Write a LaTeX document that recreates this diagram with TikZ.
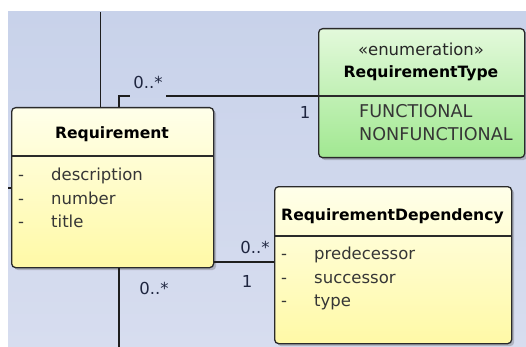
\documentclass[tikz,border=0pt]{standalone}
\usepackage{fontspec}
\setmainfont{DejaVu Sans}
\usetikzlibrary{shadows}

\definecolor{canvasTop}{HTML}{C8D2EA}
\definecolor{canvasBot}{HTML}{D7DDEF}
\definecolor{clsTop}{HTML}{FFFFEA}
\definecolor{clsBot}{HTML}{FFF9A6}
\definecolor{enumTop}{HTML}{E3F9DB}
\definecolor{enumBot}{HTML}{A1E891}
\definecolor{edgeCol}{HTML}{2A2A2A}
\definecolor{lineCol}{HTML}{1E1E1E}
\definecolor{attrCol}{HTML}{363636}
\definecolor{multCol}{HTML}{1F2640}

\newcommand\umlreg{\fontsize{16.5}{19}\selectfont}
\newcommand\umllit{\fontsize{17.6}{20}\selectfont}
\newcommand\umlbold{\fontsize{15.6}{19}\selectfont\bfseries}

\begin{document}
\begin{tikzpicture}[x=1pt,y=-1pt,
  umlbox/.style={draw=edgeCol, line width=1.3pt, rounded corners=4pt,
    anchor=north west, inner sep=0pt,
    drop shadow={shadow xshift=2.5pt, shadow yshift=-2.5pt, opacity=0.28, fill=black!70}},
  classbox/.style={umlbox, top color=clsTop, bottom color=clsBot},
  enumbox/.style={umlbox, top color=enumTop, bottom color=enumBot},
  sepline/.style={draw=edgeCol, line width=1.3pt},
  conn/.style={draw=lineCol, line width=1.4pt},
  ttl/.style={font=\umlbold, text=black, inner sep=0pt, text height=12pt, text depth=4pt},
  stereo/.style={font=\umlreg, text=black!85, inner sep=0pt, text height=12pt, text depth=4pt},
  attr/.style={font=\umlreg, text=attrCol, anchor=west, inner sep=0pt, text height=12pt, text depth=4pt},
  literal/.style={attr, font=\umllit},
  mult/.style={font=\umlreg, text=multCol, inner sep=0pt, text height=12pt, text depth=4pt},
]
\useasboundingbox (0,0) rectangle (526,347);
\fill[white] (0,0) rectangle (526,347);
\shade[top color=canvasTop, bottom color=canvasBot] (8,12) rectangle (526,347);

% class and enumeration boxes
\node[classbox, minimum width=202pt, minimum height=160pt] (req) at (11,107) {};
\node[enumbox, minimum width=206pt, minimum height=129pt] (rtype) at (318,28) {};
\node[classbox, minimum width=237pt, minimum height=157pt] (rdep) at (274,186) {};

% compartment separators
\draw[sepline] ([yshift=-49pt]req.north west) -- ([yshift=-49pt]req.north east);
\draw[sepline] ([yshift=-68pt]rtype.north west) -- ([yshift=-68pt]rtype.north east);
\draw[sepline] ([yshift=-50pt]rdep.north west) -- ([yshift=-50pt]rdep.north east);

% connector end points
\coordinate (topEnd) at (100.5,12);
\coordinate (leftEnd) at (8,188);
\coordinate (bend) at (119,96);
\coordinate (depY) at (0,262);
\coordinate (botEnd) at (119,347);

% associations
\draw[conn] (topEnd) -- (req.north -| topEnd);
\draw[conn] (leftEnd) -- (req.west |- leftEnd);
\draw[conn] (req.north -| bend) -- (bend) -- (rtype.west |- bend);
\draw[conn] (req.east |- depY) -- (rdep.west |- depY);
\draw[conn] (req.south -| botEnd) -- (botEnd);

% multiplicities
\node[mult, anchor=base, fill=canvasTop!78!canvasBot, inner xsep=3pt, text depth=9pt] (mTypeMany) at (148,89) {0..*};
\node[mult] (mTypeOne) at (305,115) {1};
\node[mult] (mDepMany) at (255,249) {0..*};
\node[mult] (mDepOne) at (247,283) {1};
\node[mult] (mDownMany) at (154,290) {0..*};

% Requirement
\node[ttl] (reqName) at (112,135) {Requirement};
\node[attr] (reqD1) at (18,176) {-};
\node[attr] (reqA1) at (51,176) {description};
\node[attr] (reqD2) at (18,200) {-};
\node[attr] (reqA2) at (51,200) {number};
\node[attr] (reqD3) at (18,223) {-};
\node[attr] (reqA3) at (51,223) {title};

% RequirementType
\node[stereo] (rtStereo) at (421,52) {«enumeration»};
\node[ttl] (rtName) at (421,74) {RequirementType};
\node[literal] (rtL1) at (359,114) {FUNCTIONAL};
\node[literal] (rtL2) at (359,137) {NONFUNCTIONAL};

% RequirementDependency
\node[ttl] (rdName) at (392.5,216) {RequirementDependency};
\node[attr] (rdD1) at (281,255) {-};
\node[attr] (rdA1) at (314,255) {predecessor};
\node[attr] (rdD2) at (281,279) {-};
\node[attr] (rdA2) at (314,279) {successor};
\node[attr] (rdD3) at (281,302) {-};
\node[attr] (rdA3) at (314,302) {type};
\end{tikzpicture}
\end{document}
